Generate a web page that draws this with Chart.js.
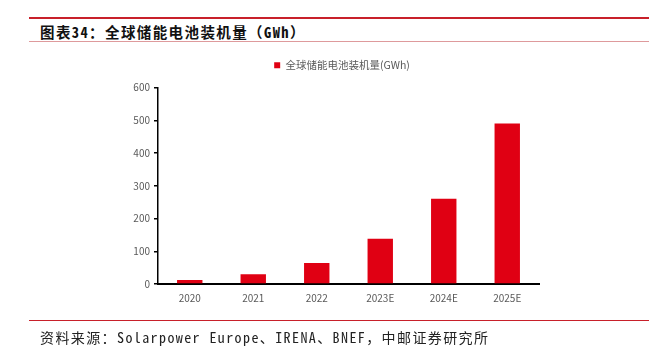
<!DOCTYPE html>
<html>
<head>
<meta charset="utf-8">
<script src="https://cdn.jsdelivr.net/npm/chart.js@4"></script>
<style>
  html, body { margin: 0; padding: 0; background: #fff; }
  body { width: 665px; height: 347px; position: relative; overflow: hidden;
         font-family: "Noto Sans Mono CJK SC", "Noto Sans CJK SC", sans-serif; }
  .rule-top { position: absolute; left: 29px; top: 17px; width: 620px; height: 2px; background: #C8202A; }
  .title { position: absolute; left: 40px; top: 22px; font-size: 14.5px; font-weight: bold; color: #111;
           line-height: 19px; white-space: nowrap; letter-spacing: 1.4px; }
  .rule-title { position: absolute; left: 29px; top: 40.5px; width: 620px; height: 1.5px; background: #DE9A9C; }
  .rule-foot { position: absolute; left: 29px; top: 319.5px; width: 620px; height: 1px; background: #C8202A; }
  .source { position: absolute; left: 40px; top: 328px; font-size: 14px; color: #222;
            line-height: 19px; white-space: nowrap; letter-spacing: 1.4px; }
  .wrap { position: absolute; left: 0; top: 0; width: 665px; height: 347px; }
</style>
</head>
<body>
<div class="rule-top"></div>
<div class="title">图表34：全球储能电池装机量（GWh）</div>
<div class="rule-title"></div>
<div class="wrap"><canvas id="c" width="665" height="347"></canvas></div>
<div class="rule-foot"></div>
<div class="source">资料来源：Solarpower Europe、IRENA、BNEF，中邮证券研究所</div>
<script>
const categories = ['2020', '2021', '2022', '2023E', '2024E', '2025E'];
const installedGWh = [12, 30, 64, 138, 260, 490];
const seriesName = '全球储能电池装机量(GWh)';
const yTicks = [0, 100, 200, 300, 400, 500, 600];

const barRed = '#E00013';
const tickGrey = '#595959';
const labelFont = '"Noto Sans CJK SC", sans-serif';

// extra room under the legend, and a small shift so its item sits right of the canvas centre
const legendSpacing = {
  id: 'legendSpacing',
  beforeLayout(chart) {
    const lg = chart.legend;
    if (lg && !lg._extraGap) {
      const fit = lg.fit;
      lg.fit = function () { fit.call(this); this.height += 7; };
      lg._extraGap = true;
    }
  },
  afterLayout(chart) {
    if (chart.legend) { chart.legend.left += 17; }
  }
};

new Chart(document.getElementById('c'), {
  type: 'bar',
  data: {
    labels: categories,
    datasets: [{
      label: seriesName,
      data: installedGWh,
      backgroundColor: barRed,
      borderWidth: 0,
      barPercentage: 0.4,
      categoryPercentage: 1.0
    }]
  },
  plugins: [legendSpacing],
  options: {
    responsive: false,
    animation: false,
    devicePixelRatio: 1,
    layout: { padding: { left: 128, right: 126, top: 42, bottom: 43 } },
    plugins: {
      legend: {
        display: true,
        position: 'top',
        labels: {
          boxWidth: 6, boxHeight: 6, padding: 18,
          color: tickGrey,
          font: { size: 10.5, family: labelFont }
        }
      },
      tooltip: { enabled: false }
    },
    scales: {
      x: {
        grid: { display: false, drawTicks: false },
        border: { display: true, color: '#000', width: 2 },
        ticks: { color: tickGrey, padding: 8, font: { size: 10, family: labelFont } },
        afterFit: s => { s.height = 20; }
      },
      y: {
        min: 0, max: 600,
        afterBuildTicks: s => { s.ticks = yTicks.map(v => ({ value: v })); },
        grid: { display: true, drawOnChartArea: false, drawTicks: true, tickLength: 4, color: '#000', lineWidth: 1.5 },
        border: { display: true, color: '#000', width: 1.5 },
        ticks: { color: tickGrey, padding: 4, font: { size: 10, family: labelFont } },
        afterFit: s => { s.width = 30; }
      }
    }
  }
});
</script>
</body>
</html>
